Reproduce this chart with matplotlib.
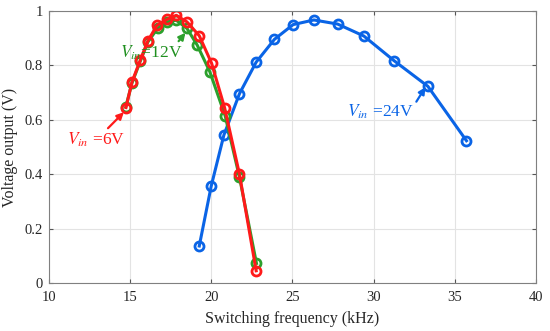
import matplotlib
matplotlib.use("Agg")
import matplotlib.pyplot as plt

# switching frequency (kHz) and output voltage (V) for each input voltage
f_24v = [19.25, 19.99, 20.77, 21.73, 22.76, 23.89, 25.04, 26.32, 27.78, 29.40, 31.27, 33.35, 35.73]
v_24v = [0.136, 0.357, 0.544, 0.696, 0.812, 0.896, 0.950, 0.967, 0.952, 0.908, 0.817, 0.723, 0.523]

f_12v = [14.72, 15.10, 15.61, 16.08, 16.68, 17.26, 17.83, 18.49, 19.12, 19.90, 20.85, 21.73, 22.78]
v_12v = [0.648, 0.735, 0.815, 0.886, 0.936, 0.960, 0.966, 0.936, 0.875, 0.777, 0.614, 0.389, 0.072]

f_6v = [14.73, 15.10, 15.61, 16.08, 16.64, 17.26, 17.83, 18.49, 19.25, 20.01, 20.81, 21.73, 22.76]
v_6v = [0.645, 0.739, 0.819, 0.890, 0.947, 0.969, 0.984, 0.960, 0.909, 0.808, 0.645, 0.400, 0.045]

xticks = [10, 15, 20, 25, 30, 35, 40]
yticks = [0, 0.2, 0.4, 0.6, 0.8, 1]

plt.rcParams["font.family"] = ["Liberation Serif", "DejaVu Serif"]
plt.rcParams["mathtext.fontset"] = "stix"

BLUE = "#0a64e6"
GREEN = "#2ca02c"
RED = "#ff1a1a"

fig = plt.figure(figsize=(5.5, 3.31), dpi=100)
ax = fig.add_axes([0.0896, 0.145, 0.8844, 0.8218])

style = dict(marker="o", markersize=6.5, markerfacecolor="none", markeredgewidth=2.0, linewidth=2.2)
ax.plot(f_24v, v_24v, color=BLUE, **style)
ax.plot(f_12v, v_12v, color=GREEN, **style)
ax.plot(f_6v, v_6v, color=RED, **style)

ax.set_xlim(10, 40)
ax.set_ylim(0, 1)
ax.set_xticks(xticks)
ax.set_yticks(yticks)
ax.set_yticklabels(["0", "0.2", "0.4", "0.6", "0.8", "1"])
ax.grid(True, color="#e3e3e3", linewidth=0.8)
ax.set_axisbelow(True)
ax.tick_params(direction="in", top=True, right=True, length=3, width=0.8,
               color="#555555", labelsize=10.5, labelcolor="#262626")
ax.tick_params(axis="x", pad=5.5)
ax.tick_params(axis="y", pad=4.5)
for s in ax.spines.values():
    s.set_color("#808080")
    s.set_linewidth(0.8)

ax.set_xlabel("Switching frequency (kHz)", fontsize=11.5, color="#262626", labelpad=5)
ax.set_ylabel("Voltage output (V)", fontsize=11.5, color="#262626", labelpad=5)

ann = dict(fontsize=12.5, ha="left", va="center")
ax.annotate(r"$V_{in}$ =6V", xy=(14.6, 0.628), xytext=(11.1, 0.525), color=RED,
            arrowprops=dict(arrowstyle="-|>", color=RED, lw=1.6, mutation_scale=10,
                            shrinkA=0, shrinkB=0), **ann)
ax.annotate(r"$V_{in}$=12V", xy=(18.4, 0.92), xytext=(14.35, 0.845), color="#1f8f1f",
            arrowprops=dict(arrowstyle="-|>", color=GREEN, lw=1.6, mutation_scale=10,
                            shrinkA=0, shrinkB=0, relpos=(0.87, 0.85)), **ann)
ax.annotate(r"$V_{in}$ =24V", xy=(33.2, 0.72), xytext=(28.35, 0.63), color=BLUE,
            arrowprops=dict(arrowstyle="-|>", color=BLUE, lw=1.6, mutation_scale=10,
                            shrinkA=0, shrinkB=0, relpos=(1.0, 0.8)), **ann)

fig.savefig("out.png", dpi=100)
